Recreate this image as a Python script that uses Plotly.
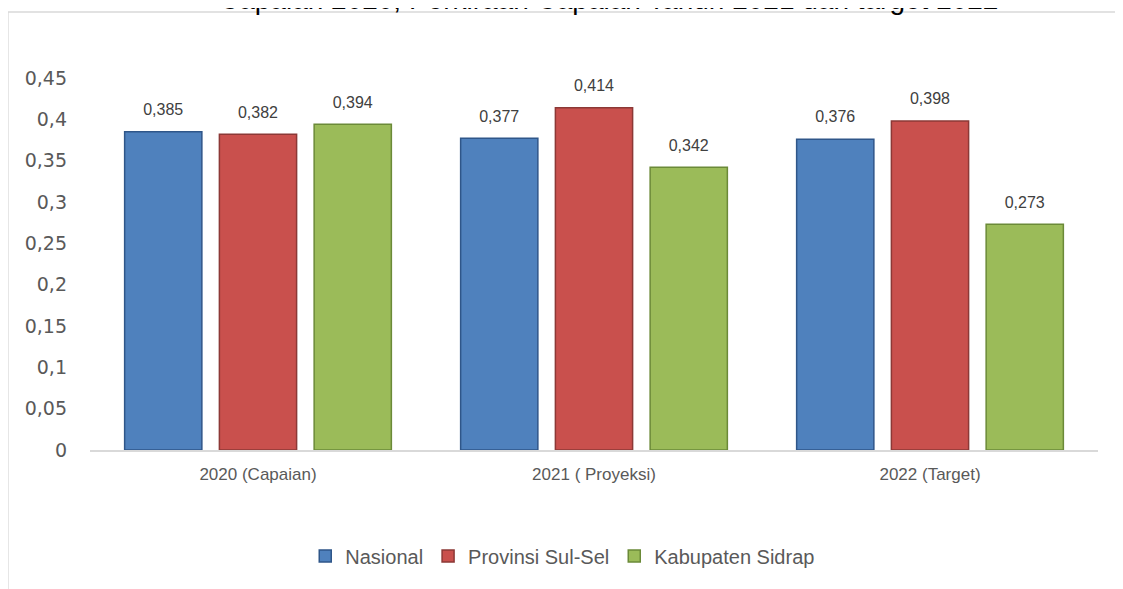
import plotly.graph_objects as go

categories = ["2020 (Capaian)", "2021 ( Proyeksi)", "2022 (Target)"]
nasional = [0.385, 0.377, 0.376]
provinsi = [0.382, 0.414, 0.398]
kabupaten = [0.394, 0.342, 0.273]
nasional_lbl = ["0,385", "0,377", "0,376"]
provinsi_lbl = ["0,382", "0,414", "0,398"]
kabupaten_lbl = ["0,394", "0,342", "0,273"]
tick_vals = [0, 0.05, 0.1, 0.15, 0.2, 0.25, 0.3, 0.35, 0.4, 0.45]
tick_text = ["0", "0,05", "0,1", "0,15", "0,2", "0,25", "0,3", "0,35", "0,4", "0,45"]
title_text = "Capaian 2020, Perkiraan Capaian Tahun 2021 dan target 2022"

series = [
    ("Nasional", nasional, nasional_lbl, "#4f81bd", "#2f5689"),
    ("Provinsi Sul-Sel", provinsi, provinsi_lbl, "#c9504d", "#8c3836"),
    ("Kabupaten Sidrap", kabupaten, kabupaten_lbl, "#9bbb59", "#6b8a38"),
]

fig = go.Figure()
for name, vals, lbls, col, edge in series:
    fig.add_trace(go.Bar(
        x=categories, y=vals, name=name, text=lbls,
        texttemplate="<span style='font-size:16px'>%{text}</span><br> ",
        textposition="outside", cliponaxis=False,
        textfont=dict(family="Liberation Sans, Arial, sans-serif", size=9, color="#404040"),
        marker=dict(color=col, line=dict(color=edge, width=1.5)),
    ))

# the page places the figure 8px from the top-left corner
W, H = 1115, 581
fig.update_layout(
    width=W, height=H,
    paper_bgcolor="white", plot_bgcolor="white",
    margin=dict(l=82, r=25, t=70, b=139),
    barmode="group", bargap=0.154, bargroupgap=0.185,
    font=dict(family="Liberation Sans, Arial, sans-serif", color="#595959"),
    showlegend=True,
    legend=dict(orientation="h", x=0.469, xanchor="center", y=-0.285, yanchor="middle",
                font=dict(size=20, color="#595959"), itemwidth=30, traceorder="normal"),
    xaxis=dict(showline=True, linecolor="#d9d9d9", linewidth=2, ticks="",
               ticklabelstandoff=8,
               tickfont=dict(size=17, color="#595959"), showgrid=False),
    yaxis=dict(range=[0, 0.45], tickvals=tick_vals, ticktext=tick_text, showgrid=False,
               zeroline=False, showline=False, ticks="", ticklabelstandoff=22,
               tickfont=dict(family="DejaVu Sans, sans-serif", size=19, color="#595959")),
    annotations=[dict(text=title_text, xref="paper", yref="paper", x=0.514, y=1,
                      xanchor="center", yanchor="middle", yshift=79, showarrow=False,
                      font=dict(family="Liberation Sans, Arial, sans-serif", size=28, color="#000000"))],
    shapes=[dict(type="rect", xref="paper", yref="paper",
                 x0=-0.0001 - 82 / 1008, x1=1.1, y0=-0.5, y1=(450 - 12) / 372,
                 line=dict(color="#d9d9d9", width=1.5), fillcolor="rgba(0,0,0,0)", layer="below")],
)

fig.write_html("out.html")
